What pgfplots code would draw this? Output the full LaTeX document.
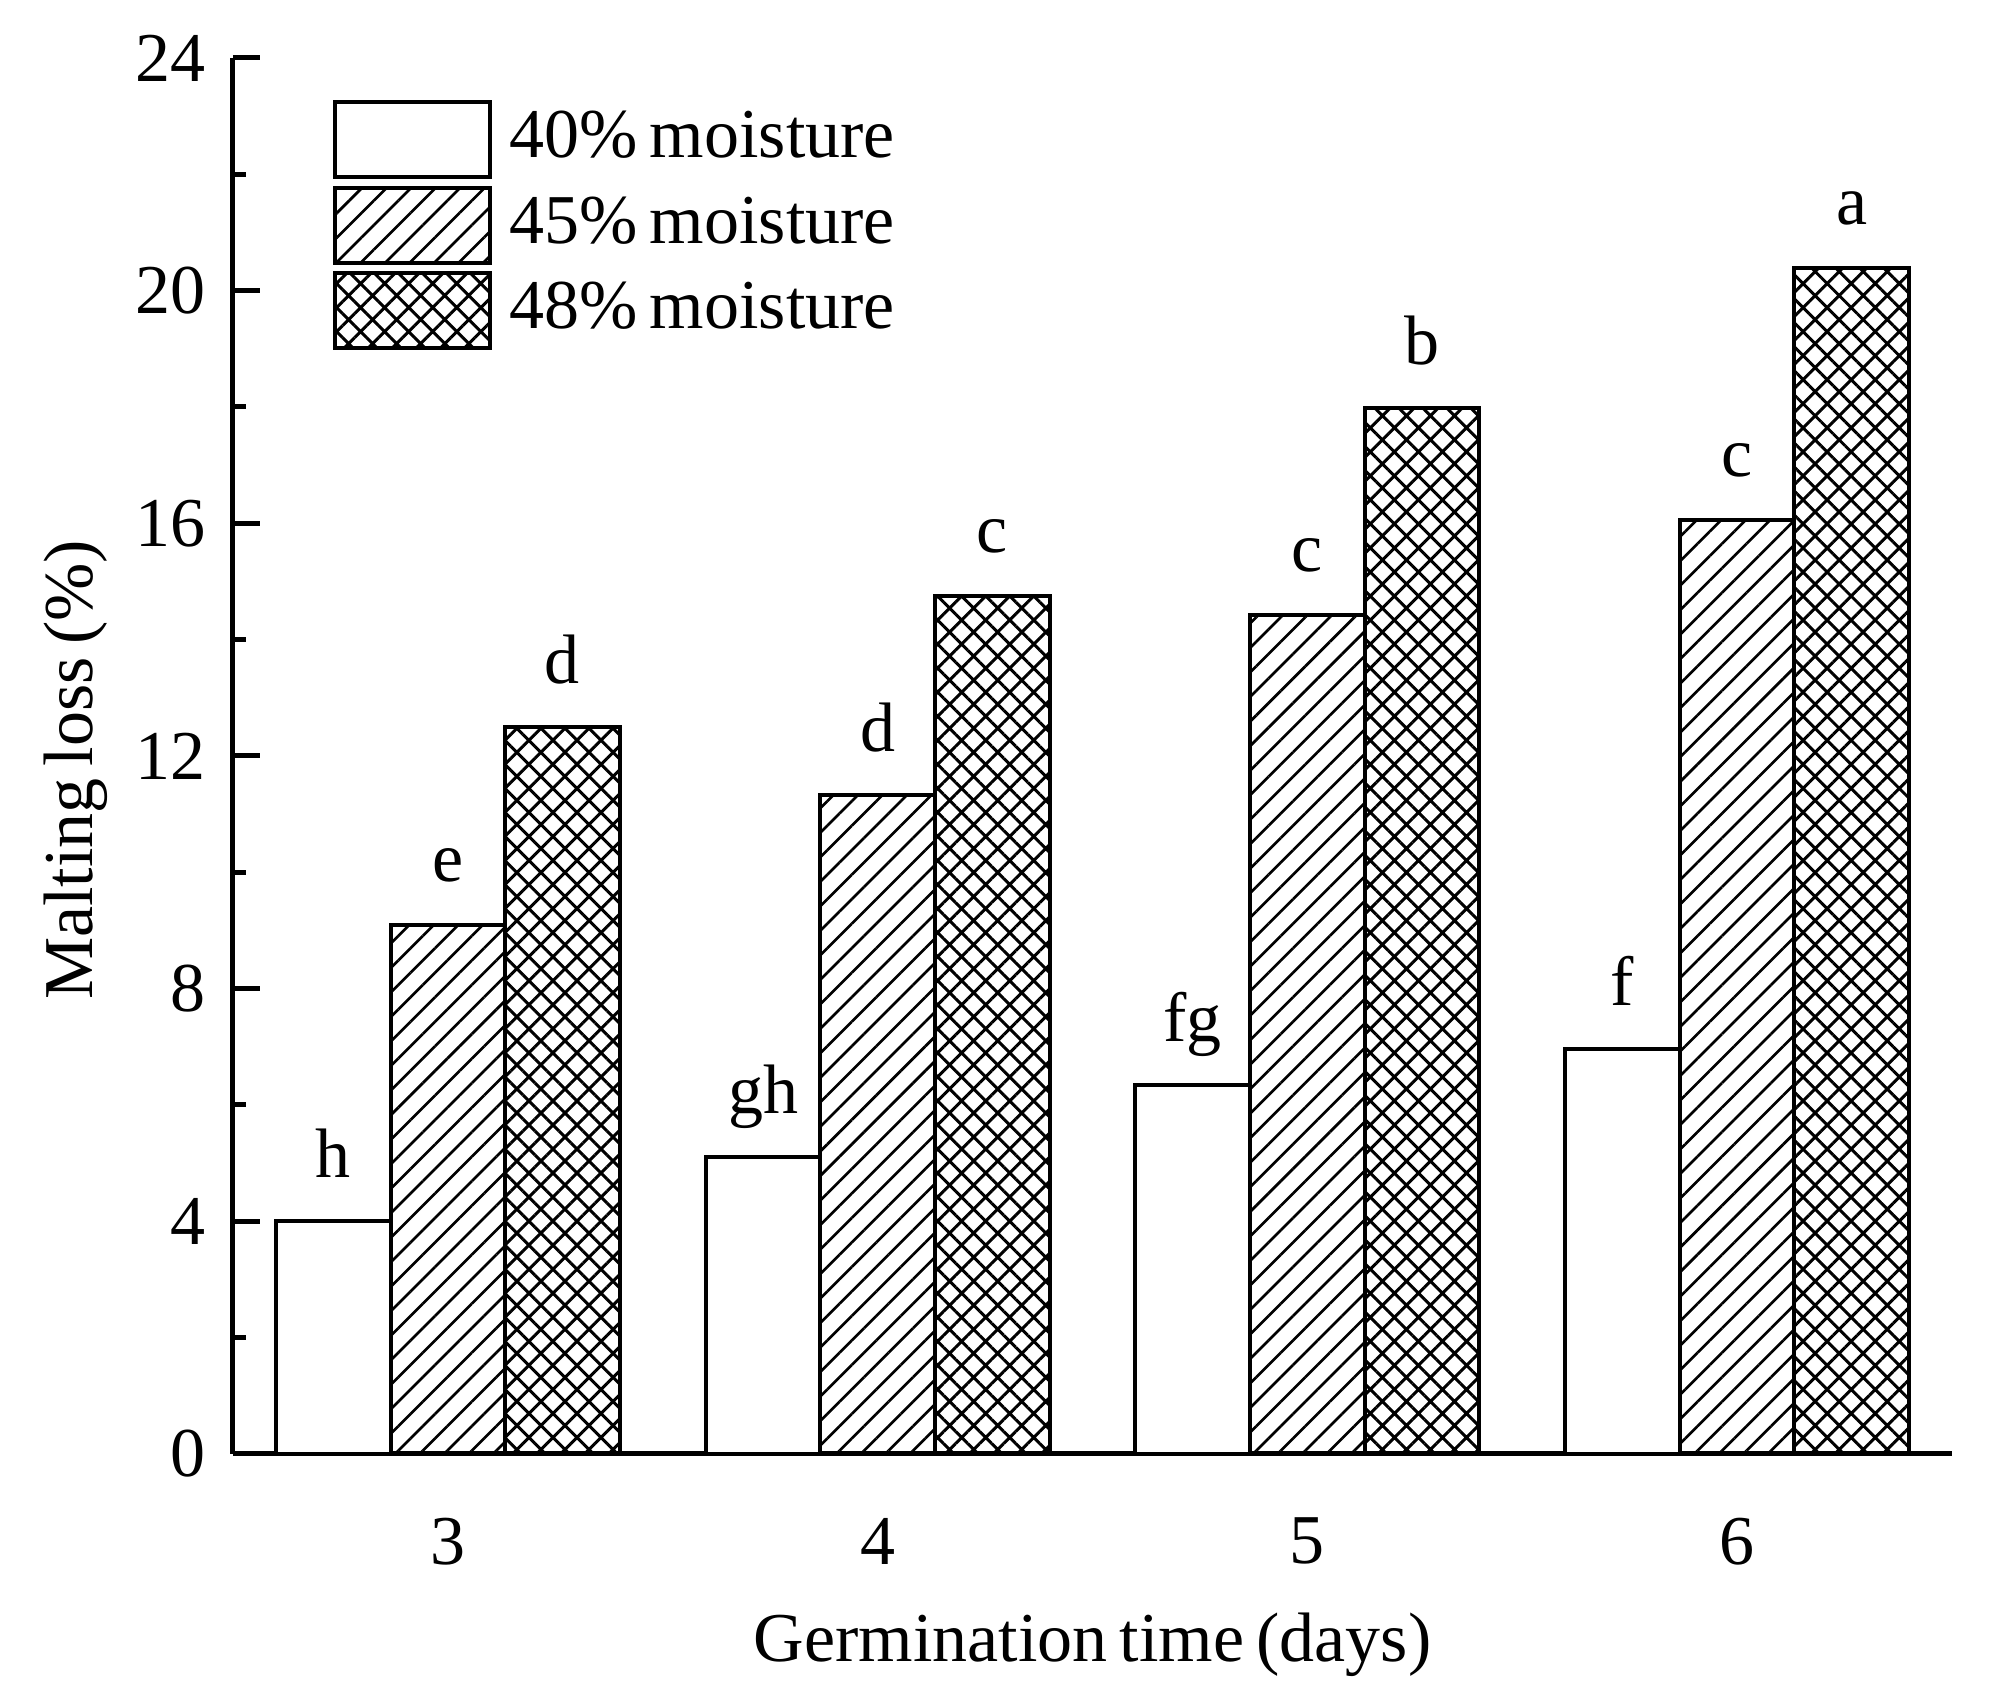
\documentclass[border=0pt]{standalone}
\usepackage{pgfplots}
\pgfplotsset{compat=1.18}
\usetikzlibrary{patterns.meta}
\usepackage{fontspec}
\setmainfont[WordSpace=0.7]{Liberation Serif}
\begin{document}
\fontsize{21pt}{25pt}\selectfont
\begin{tikzpicture}
\useasboundingbox (-69.9pt,-74.4pt) rectangle (528.3pt,436.2pt);
\begin{axis}[
  at={(0,0)}, anchor=south west,
  scale only axis, width=515.7pt, height=418.8pt,
  xmin=2.5, xmax=6.5, ymin=0, ymax=24,
  axis x line=bottom, axis y line=left,
  axis line style={-, line width=1.5pt},
  xtick={3,4,5,6},
  major x tick style={draw=none},
  ytick={0,4,...,24},
  minor ytick={2,6,10,14,18,22},
  tick align=inside,
  major tick length=8pt, minor tick length=4pt,
  every tick/.style={line width=1.5pt, black},
  /pgf/number format/assume math mode=true,
  yticklabel style={inner sep=0pt, anchor=east, xshift=-8pt},
  xticklabel style={inner sep=0pt, anchor=north, yshift=-11pt},
  xlabel={Germination time (days)},
  ylabel={Malting loss (\%)},
  xlabel style={at={(axis description cs:0.5,-0.149)}, anchor=base},
  ylabel style={at={(axis description cs:-0.082,0.49)}, anchor=base},
  ybar, bar width=0.2667,
  point meta=explicit symbolic,
  nodes near coords,
  every node near coord/.append style={anchor=base, yshift=13pt, inner sep=0pt, black},
  legend style={at={(axis description cs:0.0582,0.970)}, anchor=north west,
    draw=none, fill=none, inner sep=0pt, outer sep=0pt, row sep=2pt, column sep=5.2pt,
    nodes={inner sep=0pt}},
  legend cell align=left,
  legend image code/.code={\draw[#1] (0pt,-11.25pt) rectangle (46.5pt,11.25pt);},
]
\addplot[draw=black, line width=1.2pt, fill=white, bar shift=-0.2667]
  coordinates {(3,4.0) [h] (4,5.1) [gh] (5,6.35) [fg] (6,6.96) [f]};
\addplot[draw=black, line width=1.2pt, pattern={Lines[angle=45,distance=5.2pt,line width=0.8pt]}, pattern color=black, bar shift=0]
  coordinates {(3,9.1) [e] (4,11.33) [d] (5,14.42) [c] (6,16.06) [c]};
\addplot[draw=black, line width=1.2pt, pattern={Hatch[angle=45,distance=5.1pt,line width=0.9pt]}, pattern color=black, bar shift=0.2667]
  coordinates {(3,12.5) [d] (4,14.75) [c] (5,17.99) [b] (6,20.39) [a]};
\legend{40\% moisture, 45\% moisture, 48\% moisture}
\end{axis}
\end{tikzpicture}
\end{document}
